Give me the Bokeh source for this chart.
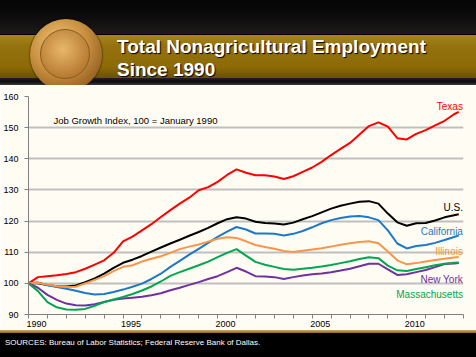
from bokeh.plotting import figure
from bokeh.models import Range1d, FixedTicker, PrintfTickFormatter, Label, Div
from bokeh.layouts import column
from bokeh.embed import file_html
from bokeh.resources import INLINE

# ---------------- data ----------------
dates = [1990 + i / 2 for i in range(46)] + [2012.75]

texas = [100.0, 102.0, 102.3, 102.6, 103.0, 103.6, 104.7, 106.0, 107.4, 109.8,
         113.5, 115.0, 117.0, 119.0, 121.3, 123.5, 125.6, 127.5, 129.9, 130.9,
         132.6, 134.8, 136.6, 135.5, 134.7, 134.7, 134.3, 133.5, 134.4, 135.8,
         137.2, 139.0, 141.2, 143.2, 145.1, 147.8, 150.5, 151.7, 150.3, 146.6,
         146.2, 148.0, 149.2, 150.7, 152.2, 154.3, 155.1]
us = [100.0, 100.0, 99.5, 99.1, 99.0, 99.3, 100.4, 101.6, 103.1, 105.0,
      106.6, 107.6, 108.8, 110.2, 111.5, 112.8, 114.0, 115.3, 116.5, 117.8,
      119.3, 120.6, 121.2, 120.8, 119.8, 119.4, 119.2, 118.9, 119.5, 120.6,
      121.6, 122.8, 124.0, 124.9, 125.6, 126.2, 126.4, 125.6, 122.4, 119.6,
      118.5, 119.3, 119.4, 120.2, 121.2, 121.9, 122.2]
california = [100.0, 100.3, 99.4, 98.8, 98.3, 97.6, 96.9, 96.4, 96.6, 97.2,
              98.0, 98.9, 99.9, 101.4, 103.1, 105.3, 107.2, 109.2, 111.1, 113.0,
              114.9, 116.6, 118.1, 117.3, 116.0, 116.0, 115.9, 115.4, 115.9, 116.8,
              118.0, 119.3, 120.3, 121.0, 121.5, 121.6, 121.2, 120.3, 117.0, 112.8,
              111.2, 112.0, 112.3, 113.0, 113.9, 114.9, 115.4]
illinois = [100.0, 100.2, 99.6, 99.1, 98.8, 98.9, 100.0, 101.1, 102.3, 103.9,
            105.3, 105.8, 107.0, 107.9, 108.7, 109.8, 111.0, 111.8, 112.5, 113.4,
            114.3, 114.8, 114.6, 113.5, 112.3, 111.7, 111.1, 110.4, 110.1, 110.5,
            110.9, 111.3, 111.8, 112.4, 112.9, 113.3, 113.5, 112.9, 110.2, 107.4,
            106.1, 106.5, 107.0, 107.5, 107.9, 108.3, 108.5]
massachusetts = [100.0, 97.5, 94.0, 92.3, 91.6, 91.5, 91.8, 92.8, 94.0, 94.8,
                 95.6, 96.6, 97.7, 99.0, 100.6, 102.4, 103.6, 104.7, 105.8, 107.0,
                 108.4, 109.8, 111.0, 108.9, 106.9, 106.0, 105.3, 104.6, 104.4, 104.7,
                 105.0, 105.4, 105.9, 106.5, 107.1, 107.8, 108.4, 108.1, 105.7, 104.2,
                 104.0, 104.6, 105.2, 105.8, 106.3, 106.6, 106.7]
new_york = [100.0, 98.6, 96.3, 94.7, 93.5, 93.0, 92.9, 93.3, 94.0, 94.7,
            95.1, 95.4, 95.7, 96.2, 96.8, 97.8, 98.6, 99.5, 100.4, 101.4,
            102.3, 103.6, 105.0, 103.8, 102.3, 102.2, 102.0, 101.4, 102.0, 102.5,
            102.9, 103.2, 103.6, 104.1, 104.7, 105.5, 106.3, 106.3, 104.5, 102.7,
            102.9, 103.6, 104.3, 105.2, 106.2, 106.4, 106.5]

series_names = ["Texas", "U.S.", "California", "Illinois", "New York", "Massachusetts"]
year_labels = [1990, 1995, 2000, 2005, 2010]
minor_years = list(range(1990, 2014))
y_ticks = [90, 100, 110, 120, 130, 140, 150, 160]

# ---------------- styles ----------------
CREAM = "#FFFCF3"
colors = {"Texas": "#FF0000", "U.S.": "#000000", "California": "#1C78C8",
          "Illinois": "#F7964A", "New York": "#7030A0", "Massachusetts": "#00A651"}
values = {"Texas": texas, "U.S.": us, "California": california,
          "Illinois": illinois, "New York": new_york, "Massachusetts": massachusetts}
label_pos = {"Texas": 156.9, "U.S.": 124.4, "California": 116.7,
             "Illinois": 110.2, "New York": 101.3, "Massachusetts": 96.4}

W = 476

header = Div(width=W, height=85, margin=(0, 0, 0, 0), text=f"""
<div style="position:relative;width:{W}px;height:85px;background:#000;overflow:hidden;">
  <div style="position:absolute;left:0;top:0;width:{W}px;height:34px;
       background:linear-gradient(#050505,#100e0e 60%,#1e1a1a);"></div>
  <div style="position:absolute;left:0;top:35px;width:{W}px;height:43px;
       background:linear-gradient(#a8841c,#94720e 25%,#8c6a06 75%,#6a5000);"></div>
  <div style="position:absolute;left:0;top:78px;width:{W}px;height:7px;
       background:linear-gradient(#222,#0c0c0c 50%,#3a3a3a);"></div>
  <div style="position:absolute;left:30px;top:19px;width:72px;height:72px;border-radius:50%;
       background:radial-gradient(circle at 40% 35%,#f2c878,#c88f40 45%,#9a6424 75%,#6a4010);
       box-shadow:0 0 2px #000;"></div>
  <div style="position:absolute;left:40px;top:29px;width:50px;height:50px;border-radius:50%;
       border:1px solid #8a5a20;
       background:radial-gradient(circle at 45% 40%,#e8b868,#b87c34 70%,#94602a);"></div>
  <div style="position:absolute;left:117px;top:35px;color:#fff;font-family:'Liberation Sans',Arial,sans-serif;
       font-weight:bold;font-size:19px;line-height:23px;text-shadow:1px 1px 1px #000;white-space:nowrap;">
       Total Nonagricultural Employment<br>Since 1990</div>
</div>""")

p = figure(width=W, height=245, output_backend="svg", toolbar_location=None,
           x_range=Range1d(1990, 2013), y_range=Range1d(90, 160),
           min_border_left=27, min_border_right=13, min_border_top=11, min_border_bottom=16,
           background_fill_color=CREAM, border_fill_color=CREAM, outline_line_color=None,
           margin=(0, 0, 0, 0))

for name in series_names:
    p.line(dates, values[name], line_color=colors[name], line_width=2)

p.xgrid.grid_line_color = None
p.ygrid.grid_line_color = "#BFBFBF"
p.ygrid.grid_line_width = 2
p.ygrid.ticker = FixedTicker(ticks=y_ticks)

p.yaxis.ticker = FixedTicker(ticks=y_ticks)
p.yaxis.major_tick_out = 4
p.yaxis.major_tick_in = 0
p.yaxis.minor_tick_out = 0
p.yaxis.axis_line_color = "#808080"
p.yaxis.major_tick_line_color = "#808080"
p.yaxis.major_label_text_font = "Liberation Sans"
p.yaxis.major_label_text_font_size = "9px"
p.yaxis.major_label_text_color = "#000000"
p.yaxis.major_label_standoff = 6

p.xaxis.ticker = FixedTicker(ticks=[y + 0.42 for y in year_labels], minor_ticks=minor_years)
p.xaxis.formatter = PrintfTickFormatter(format="%d")
p.xaxis.major_tick_out = 0
p.xaxis.major_tick_in = 0
p.xaxis.minor_tick_out = 4
p.xaxis.minor_tick_in = 0
p.xaxis.minor_tick_line_color = "#808080"
p.xaxis.axis_line_color = "#808080"
p.xaxis.major_label_text_font = "Liberation Sans"
p.xaxis.major_label_text_font_size = "9px"
p.xaxis.major_label_text_color = "#000000"
p.xaxis.major_label_standoff = 2

for name in series_names:
    p.add_layout(Label(x=2012.97, y=label_pos[name], text=name, text_align="right",
                       text_baseline="middle", text_color=colors[name],
                       text_font="Liberation Sans", text_font_size="10px"))

p.add_layout(Label(x=1991.32, y=152.4, text="Job Growth Index, 100 = January 1990",
                   text_align="left", text_baseline="middle", text_color="#000000",
                   text_font="Liberation Sans", text_font_size="9.5px"))

footer = Div(width=W, height=27, margin=(0, 0, 0, 0), text=f"""
<div style="position:relative;width:{W}px;height:27px;background:#000;overflow:hidden;">
  <div style="position:absolute;left:0;top:0;width:{W}px;height:3px;
       background:linear-gradient(#c8b070,#8a6a10);"></div>
  <div style="position:absolute;left:5px;top:8px;color:#fff;font-family:'Liberation Sans',Arial,sans-serif;
       font-size:8px;line-height:10px;white-space:nowrap;">
       SOURCES: Bureau of Labor Statistics; Federal Reserve Bank of Dallas.</div>
</div>""")

layout = column(header, p, footer, spacing=0, margin=(0, 0, 0, 0))

open("out.html", "w").write(file_html(layout, INLINE))
